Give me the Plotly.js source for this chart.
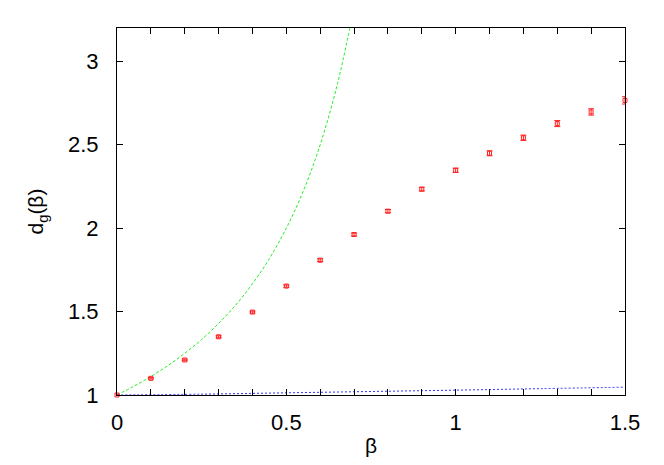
<!DOCTYPE html>
<html>
<head>
<meta charset="utf-8">
<script src="https://cdn.plot.ly/plotly-3.0.1.min.js"></script>
<style>html,body{margin:0;padding:0;background:#fff;}#chart{width:664px;height:465px;}</style>
</head>
<body>
<div id="chart"></div>
<script>
// Measured data points
const beta = [0, 0.1, 0.2, 0.3, 0.4, 0.5, 0.6, 0.7, 0.8, 0.9, 1.0, 1.1, 1.2, 1.3, 1.4, 1.5];
const dg = [1.0, 1.10, 1.21, 1.349, 1.497, 1.653, 1.808, 1.962, 2.102, 2.234, 2.347, 2.449, 2.542, 2.627, 2.697, 2.766];
const dgErr = [0.002, 0.004, 0.005, 0.006, 0.006, 0.007, 0.008, 0.009, 0.010, 0.011, 0.013, 0.015, 0.016, 0.018, 0.019, 0.022];

// Green dashed curve
const greenX = [0, 0.05, 0.1, 0.15, 0.2, 0.25, 0.3, 0.35, 0.4, 0.45, 0.5, 0.55, 0.6, 0.65, 0.6875];
const greenY = [1.0, 1.053, 1.111, 1.176, 1.25, 1.333, 1.429, 1.538, 1.667, 1.818, 2.0, 2.222, 2.5, 2.857, 3.2];

// Blue dotted curve
const blueX = [0, 0.25, 0.5, 0.75, 1.0, 1.25, 1.5];
const blueY = [1.0, 1.005, 1.013, 1.021, 1.029, 1.038, 1.047];

const xTickVals = [0, 0.5, 1, 1.5];
const xTickText = ['0', '0.5', '1', '1.5'];
const yTickVals = [1, 1.5, 2, 2.5, 3];
const yTickText = ['1', '1.5', '2', '2.5', '3'];

const traces = [
  {x: greenX, y: greenY, mode: 'lines', line: {color: '#22ee22', width: 1, dash: '3px,2px', shape: 'spline'}, hoverinfo: 'none'},
  {x: blueX, y: blueY, mode: 'lines', line: {color: '#3030ff', width: 1, dash: '2px,2px', shape: 'spline'}, hoverinfo: 'none'},
  {x: beta, y: dg, mode: 'markers', error_y: {type: 'data', array: dgErr, visible: true, color: '#ff2020', thickness: 1, width: 3},
   marker: {symbol: 'square-open', size: 4, color: '#ff2020', line: {width: 1, color: '#ff2020'}}, cliponaxis: false}
];

const tickFont = {family: 'Liberation Sans, Arial, sans-serif', size: 22, color: '#000'};
const titleFont = {family: 'Liberation Sans, Arial, sans-serif', size: 21, color: '#000'};

const layout = {
  width: 664, height: 465,
  margin: {l: 117, r: 39, t: 28, b: 70, pad: 0},
  paper_bgcolor: '#fff', plot_bgcolor: '#fff',
  showlegend: false,
  font: tickFont,
  xaxis: {
    range: [0, 1.5], showgrid: false, zeroline: false,
    showline: true, linecolor: '#000', linewidth: 1, mirror: 'ticks',
    ticks: 'inside', ticklen: 6, tickcolor: '#000', tickwidth: 1,
    tickmode: 'array', tickvals: xTickVals, ticktext: xTickText,
    ticklabelstandoff: 8,
    minor: {dtick: 0.1, ticks: 'inside', ticklen: 6, tickcolor: '#000', showgrid: false},
    tickfont: tickFont,
    title: {text: 'β', font: titleFont, standoff: 3}
  },
  yaxis: {
    range: [1, 3.2], showgrid: false, zeroline: false,
    showline: true, linecolor: '#000', linewidth: 1, mirror: 'ticks',
    ticks: 'inside', ticklen: 6, tickcolor: '#000', tickwidth: 1,
    tickmode: 'array', tickvals: yTickVals, ticktext: yTickText,
    ticklabelstandoff: 13,
    tickfont: tickFont,
    title: {text: 'd<sub>g</sub>(β)', font: titleFont, standoff: 18}
  }
};

Plotly.newPlot('chart', traces, layout, {staticPlot: true, displayModeBar: false});
</script>
</body>
</html>
